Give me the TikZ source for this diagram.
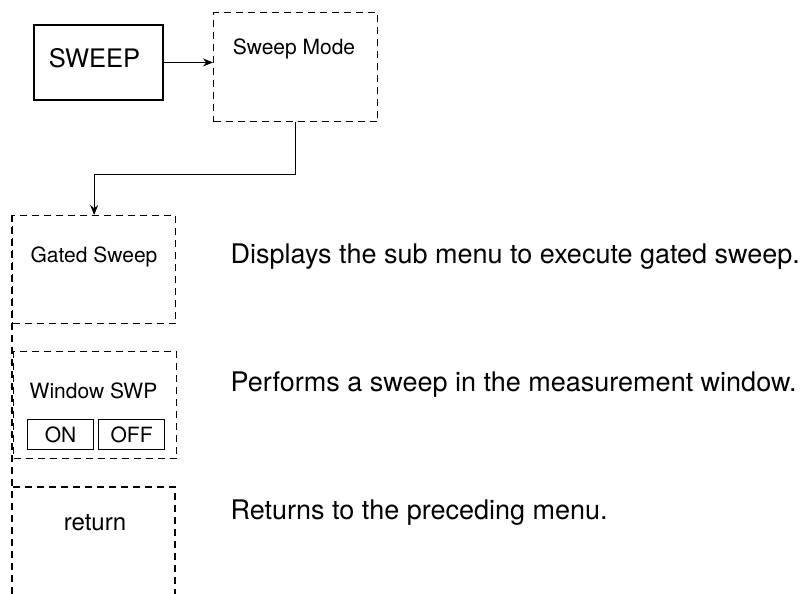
\documentclass[tikz,border=0pt]{standalone}
\usepackage{fontspec}
\setmainfont{TeX Gyre Heros}
\usetikzlibrary{arrows.meta}
\begin{document}
\begin{tikzpicture}[x=1pt,y=-1pt,
  line width=1.3pt,
  dashbox/.style={draw, dash pattern=on 7pt off 5pt, inner sep=0pt, anchor=north west},
  dashline/.style={draw, dash pattern=on 7pt off 5pt},
  solidbox/.style={draw, inner sep=0pt, anchor=north west},
  lbl/.style={inner sep=0pt, anchor=base, font=\fontsize{21}{25}\selectfont},
  desc/.style={inner sep=0pt, anchor=base west, font=\fontsize{27}{32}\selectfont},
  conn/.style={line width=1.3pt, -{Stealth[length=10pt,width=8pt]}}
]
\useasboundingbox (0,0) rectangle (809,594);
% boxes
\node[solidbox, minimum width=129pt, minimum height=75pt, line width=1.9pt] (key) at (33,24) {};
\node[dashbox, minimum width=164pt, minimum height=109pt] (mode) at (213,12) {};
\node[dashbox, minimum width=163pt, minimum height=108pt] (gated) at (12,215) {};
\node[dashbox, minimum width=163pt, minimum height=107pt] (win) at (13,351) {};
\node[solidbox, minimum width=66pt, minimum height=30pt, font=\fontsize{21}{25}\selectfont] (on) at (27,419) {ON};
\node[solidbox, minimum width=66pt, minimum height=30pt, font=\fontsize{21}{25}\selectfont] (off) at (98,419) {OFF};
\coordinate (retnw) at (12,487);
\coordinate (retne) at (175,487);
\coordinate (retsw) at (12,594);
\coordinate (retse) at (175,594);
\path[dashline] (retsw) -- (retnw) -- (retne) -- (retse);
\path[dashline] (gated.north west) -- (retsw);
% labels
\node[lbl, font=\fontsize{25.5}{30}\selectfont] (keyt) at (94.5,67) {SWEEP};
\node[lbl] (modet) at (294,55) {Sweep Mode};
\node[lbl] (gatedt) at (94,262) {Gated Sweep};
\node[lbl] (wint) at (93.5,398) {Window SWP};
\node[lbl, font=\fontsize{24}{28}\selectfont] (rett) at (95,530) {return};
% descriptions
\node[desc] (d1) at (230,263) {Displays the sub menu to execute gated sweep.};
\node[desc] (d2) at (230,391) {Performs a sweep in the measurement window.};
\node[desc] (d3) at (230,519) {Returns to the preceding menu.};
% connectors
\draw[conn] (key.east) -- (key.east -| mode.west);
\draw[conn] (mode.south) -- ++(0,52) -| (gated.north);
\end{tikzpicture}
\end{document}
